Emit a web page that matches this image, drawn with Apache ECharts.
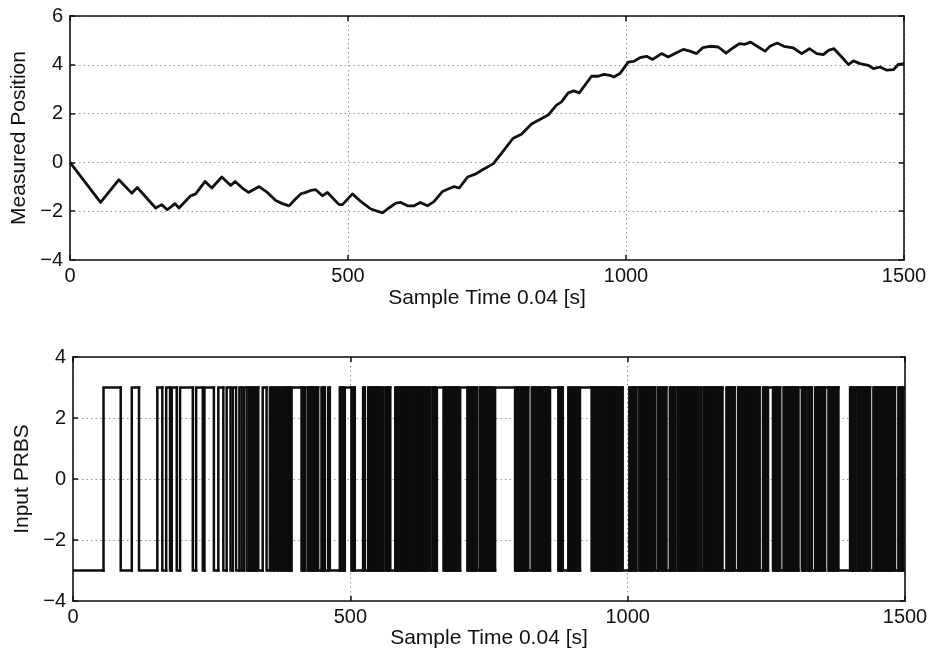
<!DOCTYPE html>
<html>
<head>
<meta charset="utf-8">
<script src="https://cdn.jsdelivr.net/npm/echarts@6/dist/echarts.min.js"></script>
<style>
html,body{margin:0;padding:0;background:#fff;}
#chart{width:936px;height:658px;}
</style>
</head>
<body>
<div id="chart"></div>
<script>
// ---- Data ----
// Top: measured position (sample index, value)
const posSample = [0,55,88,111,121,154,165,175,189,196,217,226,243,255,273,289,297,310,321,340,355,370,382,394,403,415,424,433,442,454,463,484,490,508,523,541,562,571,586,595,607,619,630,643,655,670,679,691,700,715,730,742,761,776,797,812,830,845,860,875,884,896,906,916,938,950,960,971,978,989,1004,1014,1025,1037,1048,1064,1076,1088,1103,1115,1127,1138,1151,1166,1180,1193,1204,1214,1224,1238,1250,1259,1272,1284,1301,1316,1330,1343,1355,1364,1374,1388,1400,1409,1421,1436,1445,1457,1469,1481,1490,1500];
const posValue = [0,-1.64,-0.71,-1.26,-1.03,-1.87,-1.73,-1.94,-1.69,-1.87,-1.37,-1.29,-0.78,-1.05,-0.60,-0.95,-0.78,-1.05,-1.23,-0.99,-1.23,-1.56,-1.69,-1.78,-1.56,-1.29,-1.23,-1.15,-1.12,-1.37,-1.23,-1.73,-1.73,-1.29,-1.60,-1.91,-2.07,-1.91,-1.67,-1.64,-1.78,-1.78,-1.64,-1.78,-1.60,-1.19,-1.10,-0.99,-1.05,-0.60,-0.47,-0.30,-0.06,0.37,0.99,1.15,1.57,1.76,1.94,2.35,2.48,2.85,2.93,2.85,3.53,3.53,3.61,3.57,3.50,3.64,4.11,4.14,4.29,4.35,4.22,4.46,4.32,4.46,4.63,4.56,4.46,4.70,4.76,4.73,4.48,4.70,4.87,4.84,4.93,4.73,4.56,4.76,4.89,4.76,4.69,4.46,4.66,4.46,4.42,4.59,4.66,4.32,4.01,4.16,4.05,3.98,3.84,3.91,3.78,3.80,4.02,4.05];

// Bottom: PRBS input, run lengths in samples (first run is at the low level, then alternating)
const prbsRuns = [55,31,20,13,33,9,7,7,3,9,6,23,6,12,3,17,8,9,6,7,4,6,6,4,4,5,4,2,2,3,2,3,2,3,8,7,6,4,3,4,3,3,3,4,3,2,3,2,2,2,1,18,
2,2,3,5,2,2,3,2,2,3,2,2,6,2,2,2,6,3,18,2,3,2,2,12,3,3,15,3,6,
2,2,3,2,2,3,2,2,2,3,2,3,4,2,2,2,2,9,
2,2,2,3,2,2,3,2,2,2,3,2,3,3,
2,2,3,2,2,2,2,3,2,2,3,2,3,4,2,2,2,2,12,
2,2,3,2,2,2,3,2,2,3,2,2,3,13,2,2,3,2,2,2,2,2,5,2,2,3,2,2,2,3,2,2,3,2,3,36,
2,2,3,2,3,2,2,3,2,3,6,2,2,2,3,3,3,2,2,3,2,2,2,2,3,15,2,2,2,2,10,3,2,3,3,2,3,2,3,21,
2,2,3,2,2,3,2,2,3,2,2,2,3,2,2,3,2,2,3,2,2,3,2,3,12,2,2,3,2,2,2,5,
2,2,3,2,2,3,2,2,3,2,2,3,5,2,2,3,2,2,3,2,6,2,2,3,3,4,
2,2,3,2,2,3,2,2,3,2,2,3,2,3,2,2,4,2,4,
2,2,3,2,2,3,2,2,3,2,2,3,2,2,2,7,2,2,2,3,2,2,2,6,
2,2,3,2,2,3,2,2,3,2,2,2,3,2,2,3,2,6,2,2,3,2,9,2,2,3,2,2,2,6,
2,2,3,2,2,3,2,2,3,2,2,2,6,2,2,2,4,2,2,2,2,6,2,2,3,2,2,3,2,2,6,
2,2,3,2,2,3,2,2,21,2,2,3,2,4,2,2,3,2,2,3,2,2,3,2,6,
2,2,3,2,2,3,2,2,3,2,2,3,2,2,3,2,2,6,2,2,3,2,3];
const prbsLow = -3, prbsHigh = 3;

const topXTicks = [0, 1500, 500];   // min, max, interval
const topYTicks = [-4, 6, 2];
const botXTicks = [0, 1500, 500];
const botYTicks = [-4, 4, 2];

const yTitleTop = 'Measured Position';
const yTitleBot = 'Input PRBS';
const xTitle = 'Sample Time 0.04 [s]';

// ---- Build series ----
const posData = posSample.map((s, i) => [s, posValue[i]]);
// each PRBS run: [start, end, level, previous level]
const prbsData = [];
(function () {
  let t = 0;
  const end = botXTicks[1];
  prbsRuns.forEach((r, i) => {
    if (t >= end) return;
    const lv = i % 2 === 0 ? prbsLow : prbsHigh;
    const prev = i === 0 ? lv : (i % 2 === 0 ? prbsHigh : prbsLow);
    const t1 = Math.min(t + r, end);
    prbsData.push([t, t1, lv, prev]);
    t = t1;
  });
})();

const FONT = "'Liberation Sans', Arial, Helvetica, sans-serif";
const TXT = '#111';
const fmtY = v => (v < 0 ? '\u2212' + Math.abs(v) : String(v));
const fmtX = v => String(v);

function mainX(grid, ticks, nameGap) {
  return {
    type: 'value', gridIndex: grid, position: 'bottom',
    min: ticks[0], max: ticks[1], interval: ticks[2],
    name: xTitle, nameLocation: 'middle', nameGap: nameGap,
    nameTextStyle: { fontFamily: FONT, fontSize: 21, color: TXT },
    axisLine: { show: true, onZero: false, lineStyle: { color: '#111', width: 1.6 } },
    axisTick: { show: true, inside: true, length: 5, lineStyle: { color: '#111', width: 1.5 } },
    axisLabel: { fontFamily: FONT, fontSize: 20, color: TXT, margin: 6, formatter: fmtX },
    splitLine: { show: true, lineStyle: { color: '#999', width: 1, type: [1.5, 3] } }
  };
}
function sideX(grid, ticks) {
  return {
    type: 'value', gridIndex: grid, position: 'top',
    min: ticks[0], max: ticks[1], interval: ticks[2],
    axisLine: { show: true, onZero: false, lineStyle: { color: '#111', width: 1.6 } },
    axisTick: { show: true, inside: true, length: 5, lineStyle: { color: '#111', width: 1.5 } },
    axisLabel: { show: false }, splitLine: { show: false }
  };
}
function mainY(grid, ticks, name, nameGap) {
  return {
    type: 'value', gridIndex: grid, position: 'left',
    min: ticks[0], max: ticks[1], interval: ticks[2],
    name: name, nameLocation: 'middle', nameGap: nameGap, nameRotate: 90,
    nameTextStyle: { fontFamily: FONT, fontSize: 21, color: TXT },
    axisLine: { show: true, onZero: false, lineStyle: { color: '#111', width: 1.6 } },
    axisTick: { show: true, inside: true, length: 5, lineStyle: { color: '#111', width: 1.5 } },
    axisLabel: { fontFamily: FONT, fontSize: 20, color: TXT, margin: 7, formatter: fmtY },
    splitLine: { show: true, lineStyle: { color: '#999', width: 1, type: [1.5, 3] } }
  };
}
function sideY(grid, ticks) {
  return {
    type: 'value', gridIndex: grid, position: 'right',
    min: ticks[0], max: ticks[1], interval: ticks[2],
    axisLine: { show: true, onZero: false, lineStyle: { color: '#111', width: 1.6 } },
    axisTick: { show: true, inside: true, length: 5, lineStyle: { color: '#111', width: 1.5 } },
    axisLabel: { show: false }, splitLine: { show: false }
  };
}

function renderRun(params, api) {
  const t0 = api.value(0), t1 = api.value(1), lv = api.value(2), prev = api.value(3);
  const pA = api.coord([t0, prev]);
  const pB = api.coord([t0, lv]);
  const pC = api.coord([t1, lv]);
  return {
    type: 'polyline',
    shape: { points: [pA, pB, pC] },
    style: { stroke: '#0d0d0d', lineWidth: 2.5, fill: null, lineJoin: 'miter', lineCap: 'square' },
    silent: true
  };
}

const chart = echarts.init(document.getElementById('chart'), null, { renderer: 'canvas' });
chart.setOption({
  animation: false,
  backgroundColor: '#ffffff',
  grid: [
    { left: 70, right: 32, top: 16, height: 244 },
    { left: 73, right: 31, top: 357, height: 244 }
  ],
  xAxis: [
    mainX(0, topXTicks, 28), sideX(0, topXTicks),
    mainX(1, botXTicks, 26), sideX(1, botXTicks)
  ],
  yAxis: [
    mainY(0, topYTicks, yTitleTop, 32), sideY(0, topYTicks),
    mainY(1, botYTicks, yTitleBot, 35), sideY(1, botYTicks)
  ],
  series: [
    {
      type: 'line', xAxisIndex: 0, yAxisIndex: 0, data: posData,
      showSymbol: false, symbol: 'none', smooth: false,
      lineStyle: { color: '#111', width: 2.8, join: 'round' }
    },
    {
      type: 'custom', xAxisIndex: 2, yAxisIndex: 2, data: prbsData,
      encode: { x: [0, 1], y: [2, 3] },
      renderItem: renderRun, clip: true
    }
  ]
});
</script>
</body>
</html>
